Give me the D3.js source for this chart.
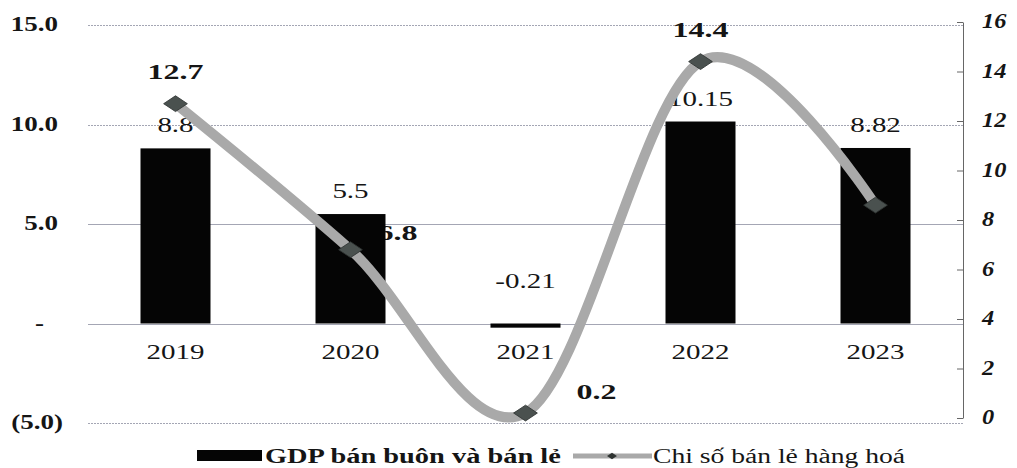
<!DOCTYPE html>
<html>
<head>
<meta charset="utf-8">
<script src="https://cdn.jsdelivr.net/npm/d3@7"></script>
<style>
  body { margin: 0; background: #fff; }
  text { font-family: "Liberation Serif", "Times New Roman", serif; fill: #151515; font-size: 20px; }
</style>
</head>
<body>
<svg id="chart" width="1017" height="468"></svg>
<script>
'use strict'

// data
var years = ['2019', '2020', '2021', '2022', '2023']
var gdpValues = [8.8, 5.5, -0.21, 10.15, 8.82]          // left axis, bars
var gdpLabels = ['8.8', '5.5', '-0.21', '10.15', '8.82']
var retailValues = [12.7, 6.8, 0.2, 14.4, 8.6]          // right axis, line
var retailLabels = ['12.7', '6.8', '0.2', '14.4', '']
var leftTicks = [-5, 0, 5, 10, 15]
var rightTicks = [0, 2, 4, 6, 8, 10, 12, 14, 16]
var legendNames = ['GDP bán buôn và bán lẻ', 'Chi số bán lẻ hàng hoá']

// where each line label sits relative to its marker (dx, dy, anchor)
var lineLabelPlace = {
  '2019': [0, -25, 'middle'],
  '2020': [27, -10, 'start'],
  '2021': [51, -14, 'start'],
  '2022': [0, -25, 'middle'],
  '2023': [0, -25, 'middle']
}

var svg = d3.select('#chart')
var left = 88, right = 963

var x = d3.scaleBand()
    .domain(years)
    .range([left, right])
    .paddingInner(0.6)
    .paddingOuter(0.3)

var yL = d3.scaleLinear().domain([-5, 15]).range([423, 25])
var yR = d3.scaleLinear().domain([0, 16]).range([418, 22])

var cx = d => x(d) + x.bandwidth() / 2

// the scanned chart is stretched sideways, so text is widened
function at(px, py, sx) {
  return 'translate(' + px + ',' + py + ') scale(' + sx + ',1)'
}

// gridlines
svg.append('g')
  .selectAll('line')
  .data(leftTicks)
  .enter().append('line')
    .attr('x1', left)
    .attr('x2', right)
    .attr('y1', d => Math.round(yL(d)) + 0.5)
    .attr('y2', d => Math.round(yL(d)) + 0.5)
    .attr('stroke', '#a4a6b4')
    .attr('stroke-width', 1)
    .attr('stroke-dasharray', d => d == 0 || d == 5 ? null : '2,1')

// left axis labels
var fmtLeft = d => d == 0 ? '-' : d < 0 ? '(' + d3.format('.1f')(-d) + ')' : d3.format('.1f')(d)
svg.append('g')
  .selectAll('text')
  .data(leftTicks)
  .enter().append('text')
    .attr('transform', d => at(d == 0 ? 44 : d < 0 ? 63 : 58, yL(d) + 6, 1.35))
    .attr('text-anchor', 'end')
    .style('font-weight', 'bold')
    .text(fmtLeft)

// right axis
var gr = svg.append('g')
    .attr('transform', 'translate(' + right + ',0)')
    .call(d3.axisRight(yR).tickValues(rightTicks).tickSizeInner(-6).tickSizeOuter(0).tickFormat(''))
gr.select('.domain').attr('stroke', '#666')
gr.selectAll('.tick line').attr('stroke', '#666')

svg.append('g')
  .selectAll('text')
  .data(rightTicks)
  .enter().append('text')
    .attr('transform', d => at(982, yR(d) + 6, 1.22))
    .style('font-weight', 'bold')
    .style('font-style', 'italic')
    .text(d => d)

// line labels go under the bars (the 2020 one is partly hidden in the original)
svg.append('g')
  .selectAll('text')
  .data(years)
  .enter().append('text')
    .attr('transform', d => at(cx(d) + lineLabelPlace[d][0],
                               yR(retailValues[years.indexOf(d)]) + lineLabelPlace[d][1], 1.6))
    .attr('text-anchor', d => lineLabelPlace[d][2])
    .style('font-weight', 'bold')
    .text((d, i) => retailLabels[i])

// bars
svg.append('g')
  .selectAll('rect')
  .data(years)
  .enter().append('rect')
    .attr('x', d => x(d))
    .attr('width', x.bandwidth())
    .attr('y', (d, i) => yL(Math.max(0, gdpValues[i])))
    .attr('height', (d, i) => Math.max(3, Math.abs(yL(gdpValues[i]) - yL(0))))
    .attr('fill', '#050505')

// year labels
svg.append('g')
  .selectAll('text')
  .data(years)
  .enter().append('text')
    .attr('transform', d => at(cx(d), yL(0) + 35, 1.45))
    .attr('text-anchor', 'middle')
    .text(d => d)

// bar value labels
svg.append('g')
  .selectAll('text')
  .data(years)
  .enter().append('text')
    .attr('transform', (d, i) => at(cx(d), yL(Math.max(0, gdpValues[i])) - (gdpValues[i] < 0 ? 36 : 16), 1.45))
    .attr('text-anchor', 'middle')
    .text((d, i) => gdpLabels[i])

// smoothed line
var line = d3.line()
    .x(d => cx(d))
    .y((d, i) => yR(retailValues[i]))
    .curve(d3.curveCardinal.tension(0))

svg.append('path')
    .datum(years)
    .attr('d', line)
    .attr('fill', 'none')
    .attr('stroke', '#a9a9a9')
    .attr('stroke-width', 10)
    .attr('stroke-linecap', 'round')

// markers
var diamond = d3.symbol().type(d3.symbolSquare).size(125)
svg.append('g')
  .selectAll('path')
  .data(years)
  .enter().append('path')
    .attr('d', diamond)
    .attr('transform', (d, i) => 'translate(' + cx(d) + ',' + yR(retailValues[i]) + ') scale(1.5,1) rotate(45)')
    .attr('fill', '#4a514f')
    .attr('stroke', '#2e3331')
    .attr('stroke-width', 0.6)

// legend
var lg = svg.append('g').attr('transform', 'translate(197,457)')
lg.append('rect')
    .attr('x', 0).attr('y', -7)
    .attr('width', 65).attr('height', 11)
    .attr('fill', '#050505')
lg.append('text')
    .attr('transform', at(68, 6, 1.42))
    .style('font-weight', 'bold')
    .text(legendNames[0])
lg.append('line')
    .attr('x1', 376).attr('x2', 455)
    .attr('y1', -1).attr('y2', -1)
    .attr('stroke', '#a9a9a9')
    .attr('stroke-width', 5)
lg.append('path')
    .attr('d', d3.symbol().type(d3.symbolSquare).size(22))
    .attr('transform', 'translate(415,-1) scale(1.5,1) rotate(45)')
    .attr('fill', '#2e3331')
lg.append('text')
    .attr('transform', at(456, 6, 1.38))
    .text(legendNames[1])
</script>
</body>
</html>
